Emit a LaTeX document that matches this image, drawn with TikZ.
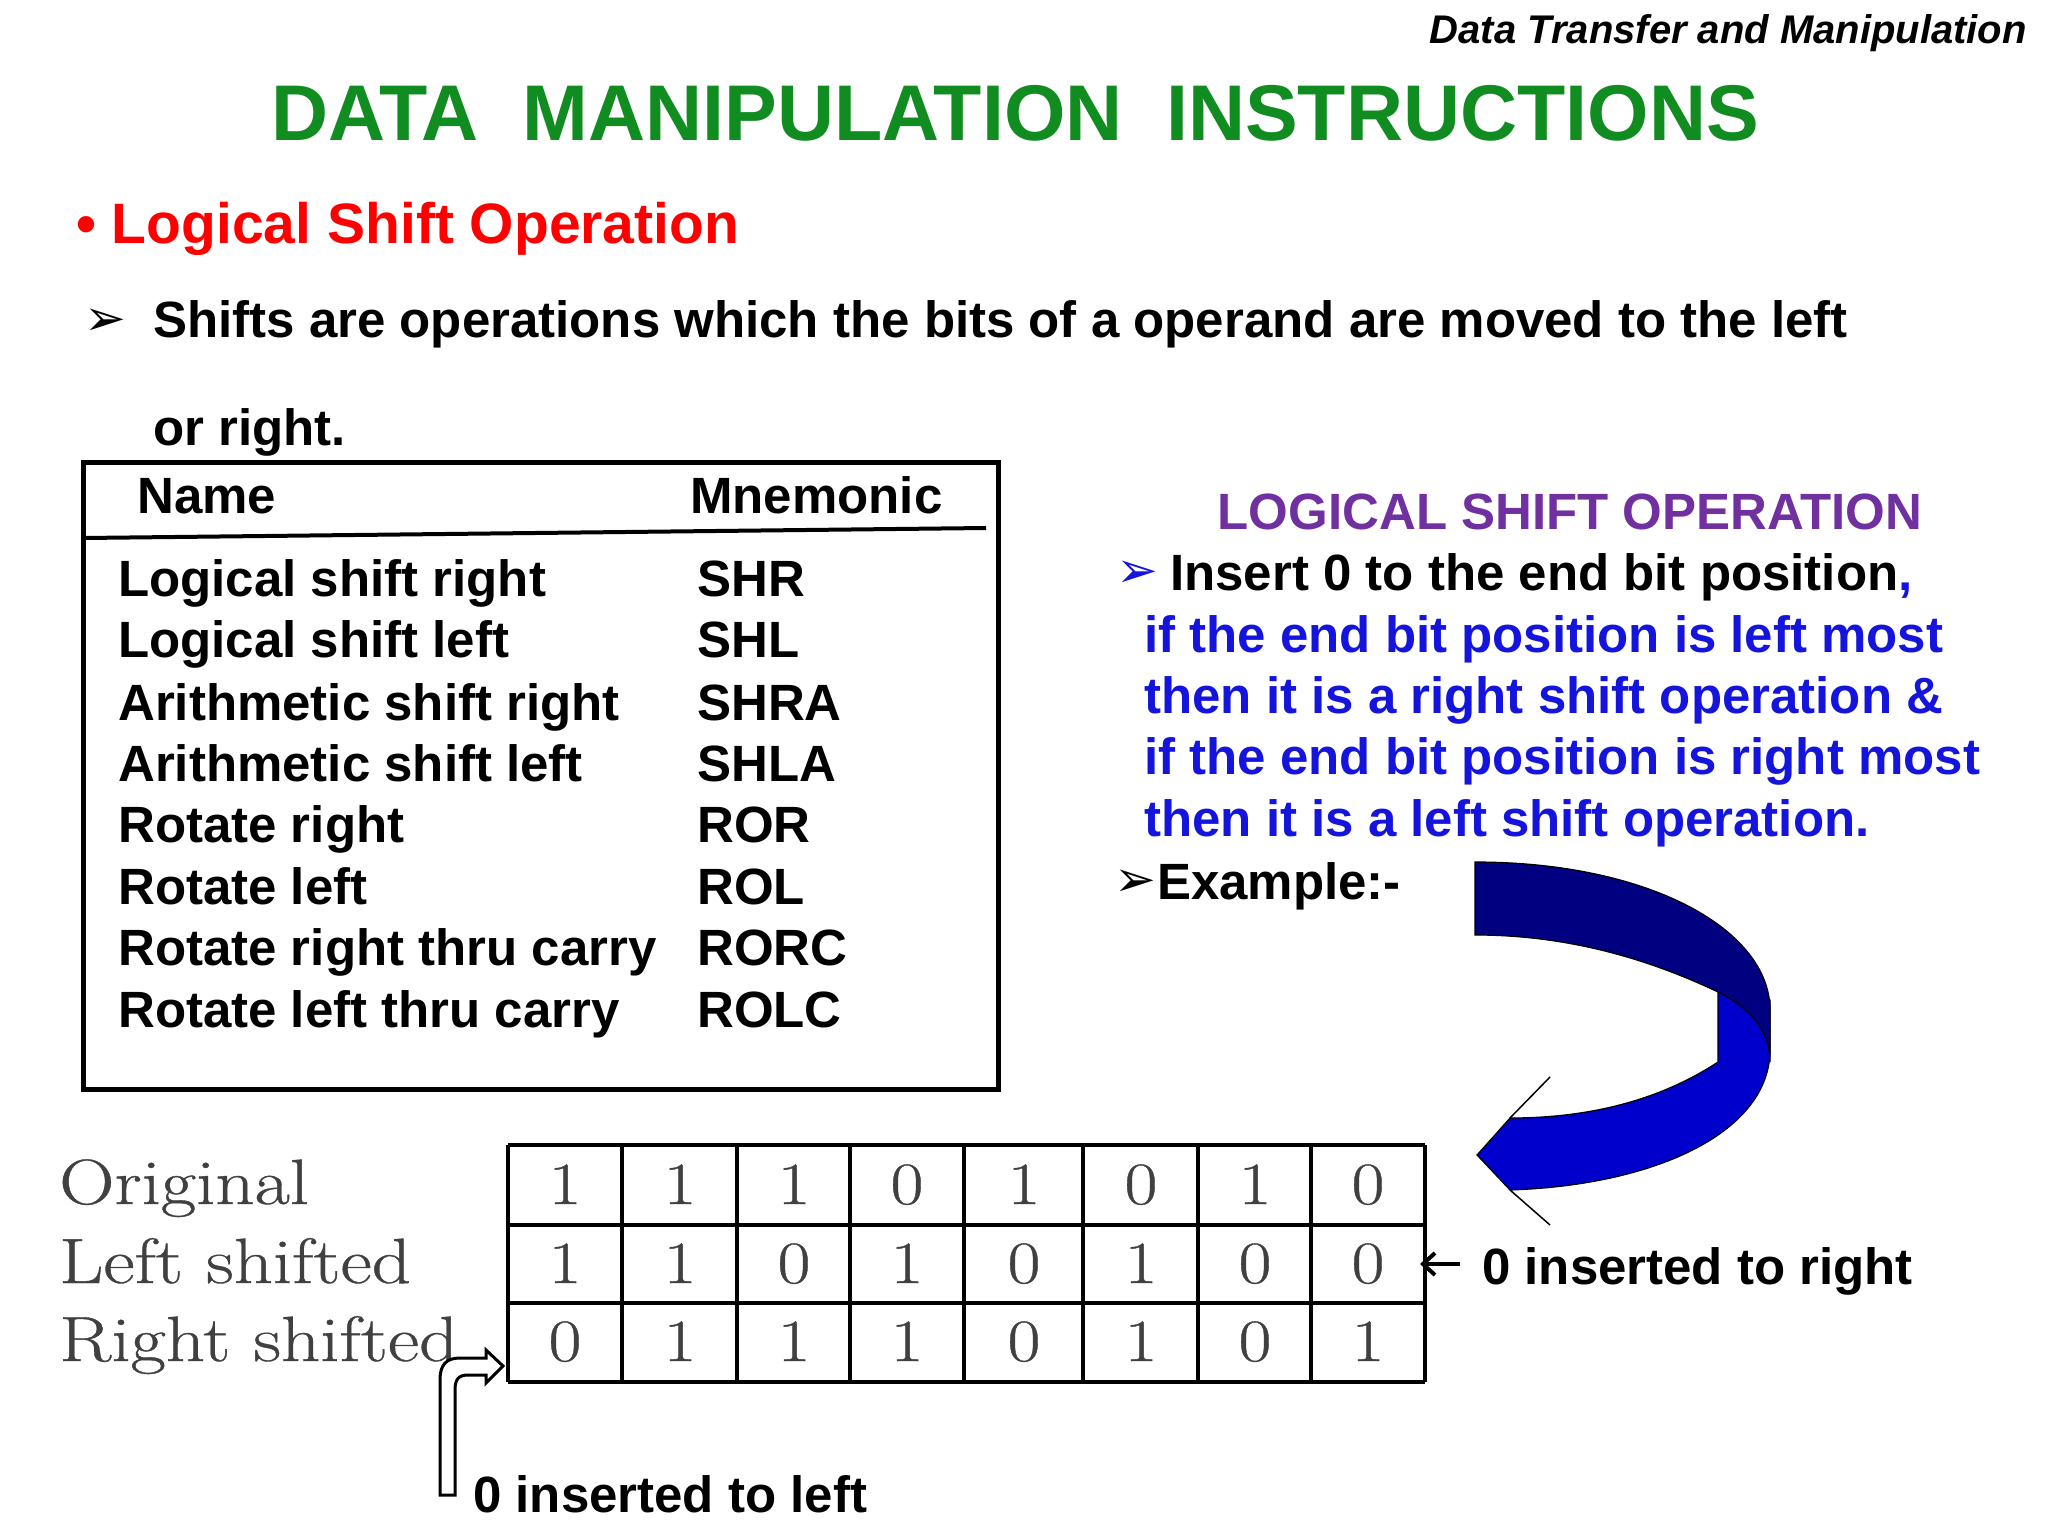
\documentclass[tikz,border=0pt]{standalone}
\usetikzlibrary{arrows.meta}
\usepackage{fontspec}
\setmainfont{Liberation Sans}
\newfontfamily\lmr[FakeStretch=1.2,FakeBold=0.6]{Latin Modern Roman}
\newfontfamily\dejavu{DejaVu Sans}
\definecolor{titlegreen}{RGB}{16,140,32}
\definecolor{purp}{RGB}{112,48,160}
\definecolor{txtblue}{RGB}{20,20,220}
\definecolor{navy}{RGB}{0,0,128}
\definecolor{lblue}{RGB}{0,0,205}
\begin{document}
\begin{tikzpicture}[x=1pt,y=-1pt,
  t/.style={anchor=base west,inner sep=0pt,font=\fontsize{51}{54}\selectfont\bfseries},
  bl/.style={anchor=base west,inner sep=0pt,font=\fontsize{50}{50}\selectfont\dejavu},
  bit/.style={anchor=base,inner sep=0pt,font=\fontsize{60}{60}\selectfont\lmr,text=black!75},
  lab/.style={anchor=base west,inner sep=0pt,font=\fontsize{64}{64}\selectfont\lmr,text=black!75}]
\useasboundingbox (0,0) rectangle (2048,1536);
\node[anchor=base east,inner sep=0pt,font=\fontsize{40}{44}\selectfont\bfseries\itshape] (hdr) at (2027,44) {Data Transfer and Manipulation};
\node[anchor=base,inner sep=0pt,font=\fontsize{79}{80}\selectfont\bfseries,text=titlegreen] (title) at (1015,141) {DATA\ \ MANIPULATION\ \ INSTRUCTIONS};
\node[anchor=base west,inner sep=0pt,font=\fontsize{57}{60}\selectfont\bfseries,text=red] (sub) at (76,243) {\textbullet\ Logical Shift Operation};
\node[bl] (b1) at (84,335) {➢};
\node[t] (l1) at (153,337) {Shifts are operations which the bits of a operand are moved to the left};
\node[t] (l2) at (153,445) {or right.};
% table
\node[draw,line width=5pt,minimum width=915pt,minimum height=627pt,anchor=north west,inner sep=0pt] (tab) at (81,460) {};
\draw[line width=4pt] (84,538) coordinate (hl) -- (986,528) coordinate (hr);
\node[t] (hn) at (137,513) {Name};
\node[t] (hm) at (690,513) {Mnemonic};
\foreach \n/\m/\y [count=\i] in {Logical shift right/SHR/596,Logical shift left/SHL/657,Arithmetic shift right/SHRA/720,Arithmetic shift left/SHLA/781,Rotate right/ROR/842,Rotate left/ROL/904,Rotate right thru carry/RORC/965,Rotate left thru carry/ROLC/1027}{
  \node[t] (n\i) at (118,\y) {\n};
  \node[t] (m\i) at (697,\y) {\m};
}
% right text
\node[anchor=base,inner sep=0pt,font=\fontsize{51}{54}\selectfont\bfseries,text=purp] (rt) at (1570,529) {LOGICAL SHIFT OPERATION};
\node[bl,text=txtblue] (b2) at (1116,587) {➢};
\node[t] (r1) at (1170,590) {Insert 0 to the end bit position\textcolor{txtblue}{,}};
\node[t,text=txtblue] (r2) at (1144,652) {if the end bit position is left most};
\node[t,text=txtblue] (r3) at (1144,713) {then it is a right shift operation \&};
\node[t,text=txtblue] (r4) at (1144,774) {if the end bit position is right most};
\node[t,text=txtblue] (r5) at (1144,836) {then it is a left shift operation.};
\node[bl] (b3) at (1114,896) {➢};
\node[t] (ex) at (1157,899) {Example:-};
% curved arrow
\draw[line width=1.2pt,fill=lblue] (1718,992) -- (1718,1062) .. controls (1660,1100) and (1590,1118) .. (1510,1118) -- (1477,1155) -- (1510,1190) .. controls (1660,1185) and (1770,1130) .. (1770,1050) -- (1770,1000) -- cycle;
\draw[line width=1.2pt,fill=navy] (1475,862) .. controls (1650,862) and (1770,930) .. (1770,1010) -- (1770,1062) .. controls (1770,1030) and (1750,1008) .. (1718,992) .. controls (1640,955) and (1560,935) .. (1475,935) -- cycle;
\draw[line width=1.5pt] (1510,1118) -- (1550,1077) (1510,1190) -- (1550,1225);
% bit grid
\foreach \x in {508,622,737,850,964,1083,1198,1311,1425} \draw[line width=3.5pt] (\x,1145) -- (\x,1382);
\foreach \y in {1145,1225,1303,1382} \draw[line width=3.5pt] (508,\y) -- (1425,\y);
\node[lab] (o) at (59,1204) {Original};
\node[lab] (ls) at (59,1283) {Left shifted};
\node[lab] (rs) at (59,1361) {Right shifted};
\foreach \a/\b/\c [count=\i] in {1/1/0,1/1/1,1/0/1,0/1/1,1/0/0,0/1/1,1/0/0,0/0/1}{
  \pgfmathsetmacro\cx{{565,680,794,907,1024,1141,1255,1368}[\i-1]}
  \node[bit] (a\i) at (\cx,1204) {\a};
  \node[bit] (b\i) at (\cx,1283) {\b};
  \node[bit] (c\i) at (\cx,1361) {\c};
}
\node[t] (ir) at (1482,1284) {0 inserted to right};
\draw[line width=4pt,-{Straight Barb[length=12pt,width=22pt,line width=4pt]}] (1460,1264) -- (1420,1264);
% bent arrow to left
\draw[line width=3pt,fill=white,line join=miter] (440,1495) -- (440,1380) .. controls (440,1365) and (446,1358) .. (460,1358) -- (486,1358) -- (486,1350) -- (503,1366) -- (486,1383) -- (486,1375) -- (468,1375) .. controls (458,1375) and (455,1380) .. (455,1390) -- (455,1495) -- cycle;
\node[t] (il) at (473,1512) {0 inserted to left};
\end{tikzpicture}
\end{document}
